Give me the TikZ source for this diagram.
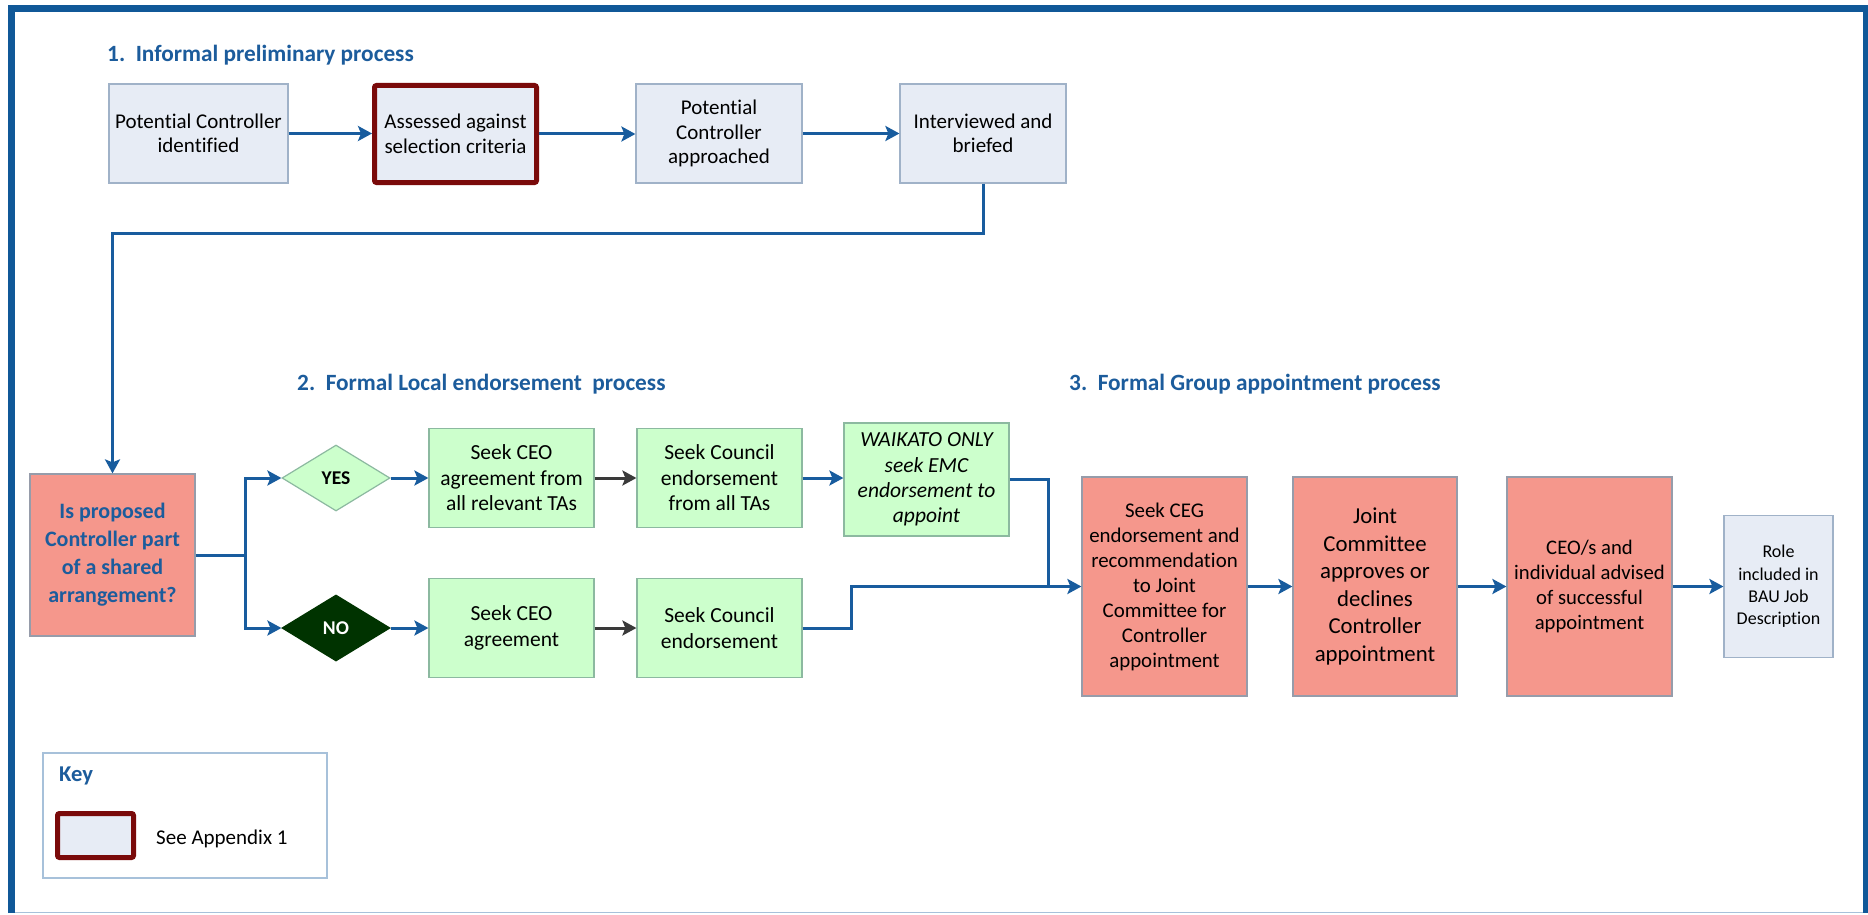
\documentclass[tikz,border=0pt]{standalone}
\usepackage{fontspec}
\setmainfont{Carlito}[Ligatures=NoCommon]
\usetikzlibrary{arrows.meta,shapes.geometric}
\definecolor{frameblue}{RGB}{16,88,152}
\definecolor{arrowblue}{RGB}{24,92,158}
\definecolor{titleblue}{RGB}{28,92,156}
\definecolor{lbluefill}{RGB}{231,236,245}
\definecolor{lbluedraw}{RGB}{160,178,200}
\definecolor{lgreenfill}{RGB}{204,255,204}
\definecolor{lgreendraw}{RGB}{140,185,160}
\definecolor{salmonfill}{RGB}{245,151,140}
\definecolor{salmondraw}{RGB}{150,156,170}
\definecolor{darkredc}{RGB}{122,10,10}
\definecolor{nogreen}{RGB}{0,51,0}
\definecolor{keydraw}{RGB}{167,193,218}
\definecolor{darkarrow}{RGB}{58,58,58}
\tikzset{
  box/.style={line width=1.2pt, inner sep=0pt, align=center, font=\fontsize{21.5}{25.5}\selectfont},
  bluebox/.style={box, fill=lbluefill, draw=lbluedraw},
  greenbox/.style={box, fill=lgreenfill, draw=lgreendraw},
  salmonbox/.style={box, fill=salmonfill, draw=salmondraw},
  redframe/.style={draw=darkredc, line width=5pt, rounded corners=2pt},
  rowfont/.style={font=\fontsize{21}{24.5}\selectfont},
  flowarr/.style={line width=3pt, draw=arrowblue, -{Stealth[length=14pt,width=15pt,inset=3pt]}},
  darkarr/.style={line width=3pt, draw=darkarrow, -{Stealth[length=14pt,width=15pt,inset=3pt]}},
  flowline/.style={line width=3pt, draw=arrowblue},
  heading/.style={anchor=west, inner sep=0pt, text=titleblue, font=\fontsize{23.3}{28}\selectfont\bfseries},
}
\begin{document}
\begin{tikzpicture}[x=1pt,y=-1pt]
\useasboundingbox (0,0) rectangle (1868,915);
\fill[white] (0,0) rectangle (1868,915);
% outer frame
\draw[line width=1.5pt, draw=keydraw] (11,912.5) -- (1866,912.5);
\draw[line width=7pt, draw=frameblue] (11,913) -- (11,8.5) -- (1866,8.5) -- (1866,913);

% headings
\node[heading] (h1) at (107,55) {1.\ \ Informal preliminary process};
\node[heading] (h2) at (297,384) {2.\ \ Formal Local endorsement\ \ process};
\node[heading] (h3) at (1069,384) {3.\ \ Formal Group appointment process};

% row 1
\node[bluebox, rowfont, minimum width=179pt, minimum height=99pt] (a) at (198.5,133.5) {Potential Controller\\identified};
\node[bluebox, rowfont, redframe, minimum width=162pt, minimum height=97pt] (b) at (455.5,134) {Assessed against\\selection criteria};
\node[bluebox, rowfont, minimum width=166pt, minimum height=99pt] (c) at (719,133.5) {Potential\\Controller\\approached};
\node[bluebox, rowfont, minimum width=166pt, minimum height=99pt] (d) at (983,133.5) {Interviewed and\\briefed};

\draw[flowarr] (a.east) -- (a.east -| b.west);
\draw[flowarr] (b.east) -- (b.east -| c.west);
\draw[flowarr] (c.east) -- (c.east -| d.west);

% decision
\node[salmonbox, minimum width=165pt, minimum height=162pt, text=titleblue, font=\fontsize{22}{28}\selectfont\bfseries] (q) at (112.5,555) {Is proposed\\Controller part\\of a shared\\arrangement?};
\draw[flowarr] (d.south) -- (983,233) -- (112.5,233) -- (q.north);

% diamonds
\node[diamond, aspect=1.64, inner sep=0pt, minimum width=108pt, minimum height=66pt, fill=lgreenfill, draw=lgreendraw, line width=1.2pt, font=\fontsize{19.5}{24}\selectfont\bfseries] (yes) at (336,478) {YES};
\node[diamond, aspect=1.64, inner sep=0pt, minimum width=108pt, minimum height=66pt, fill=nogreen, draw=nogreen, line width=1.2pt, text=white, font=\fontsize{19.5}{24}\selectfont\bfseries] (no) at (336,628) {NO};
\coordinate (br) at (245,555);
\draw[flowline] (q.east) -- (br);
\draw[flowarr] (br) |- (yes.west);
\draw[flowarr] (br) |- (no.west);

% green boxes
\node[greenbox, minimum width=165pt, minimum height=99pt] (sceo1) at (511.5,478) {Seek CEO\\agreement from\\all relevant TAs};
\node[greenbox, minimum width=165pt, minimum height=99pt] (scou1) at (719.5,478) {Seek Council\\endorsement\\from all TAs};
\node[greenbox, minimum width=165pt, minimum height=113pt, font=\fontsize{21.5}{25.3}\selectfont\itshape] (waik) at (926.5,479.5) {WAIKATO ONLY\\seek EMC\\endorsement to\\appoint};
\node[greenbox, minimum width=165pt, minimum height=99pt] (sceo2) at (511.5,628) {Seek CEO\\agreement};
\node[greenbox, minimum width=165pt, minimum height=99pt] (scou2) at (719.5,628) {Seek Council\\endorsement};

\draw[flowarr] (yes.east) -- (yes.east -| sceo1.west);
\draw[flowarr] (no.east) -- (no.east -| sceo2.west);
\draw[darkarr] (sceo1.east) -- (sceo1.east -| scou1.west);
\draw[darkarr] (sceo2.east) -- (sceo2.east -| scou2.west);
\draw[flowarr] (scou1.east) -- (scou1.east -| waik.west);

% group appointment
\node[salmonbox, minimum width=165pt, minimum height=219pt, font=\fontsize{20.9}{25}\selectfont] (ceg) at (1164.5,586.5) {Seek CEG\\endorsement and\\recommendation\\to Joint\\Committee for\\Controller\\appointment};
\node[salmonbox, minimum width=164pt, minimum height=219pt, font=\fontsize{22.8}{27.5}\selectfont] (joint) at (1375,586.5) {Joint\\Committee\\approves or\\declines\\Controller\\appointment};
\node[salmonbox, minimum width=165pt, minimum height=219pt, font=\fontsize{20.7}{24.7}\selectfont] (ceos) at (1589.5,586.5) {CEO/s and\\individual advised\\of successful\\appointment};
\node[bluebox, minimum width=109pt, minimum height=142pt, font=\fontsize{18}{22.4}\selectfont] (role) at (1778.5,586.5) {Role\\included in\\BAU Job\\Description};

\coordinate (m) at (1048,586.5);
\draw[flowline] (waik.east) -| (m);
\draw[flowline] (scou2.east) -- (851,628) -- (851,586.5) -- (m);
\draw[flowarr] (m) -- (ceg.west);
\draw[flowarr] (ceg.east) -- (joint.west);
\draw[flowarr] (joint.east) -- (ceos.west);
\draw[flowarr] (ceos.east) -- (role.west);

% key
\node[draw=keydraw, line width=1.2pt, minimum width=284pt, minimum height=125pt, inner sep=0pt] (key) at (185,815.5) {};
\node[anchor=west, inner sep=0pt, text=titleblue, font=\fontsize{22.6}{26}\selectfont\bfseries] (keyt) at (59,776) {Key};
\node[redframe, fill=lbluefill, minimum width=76pt, minimum height=44pt, inner sep=0pt] (keybox) at (95.5,835.5) {};
\node[anchor=west, inner sep=0pt, font=\fontsize{21}{25}\selectfont] (keylab) at (156,839) {See Appendix 1};
\end{tikzpicture}
\end{document}
